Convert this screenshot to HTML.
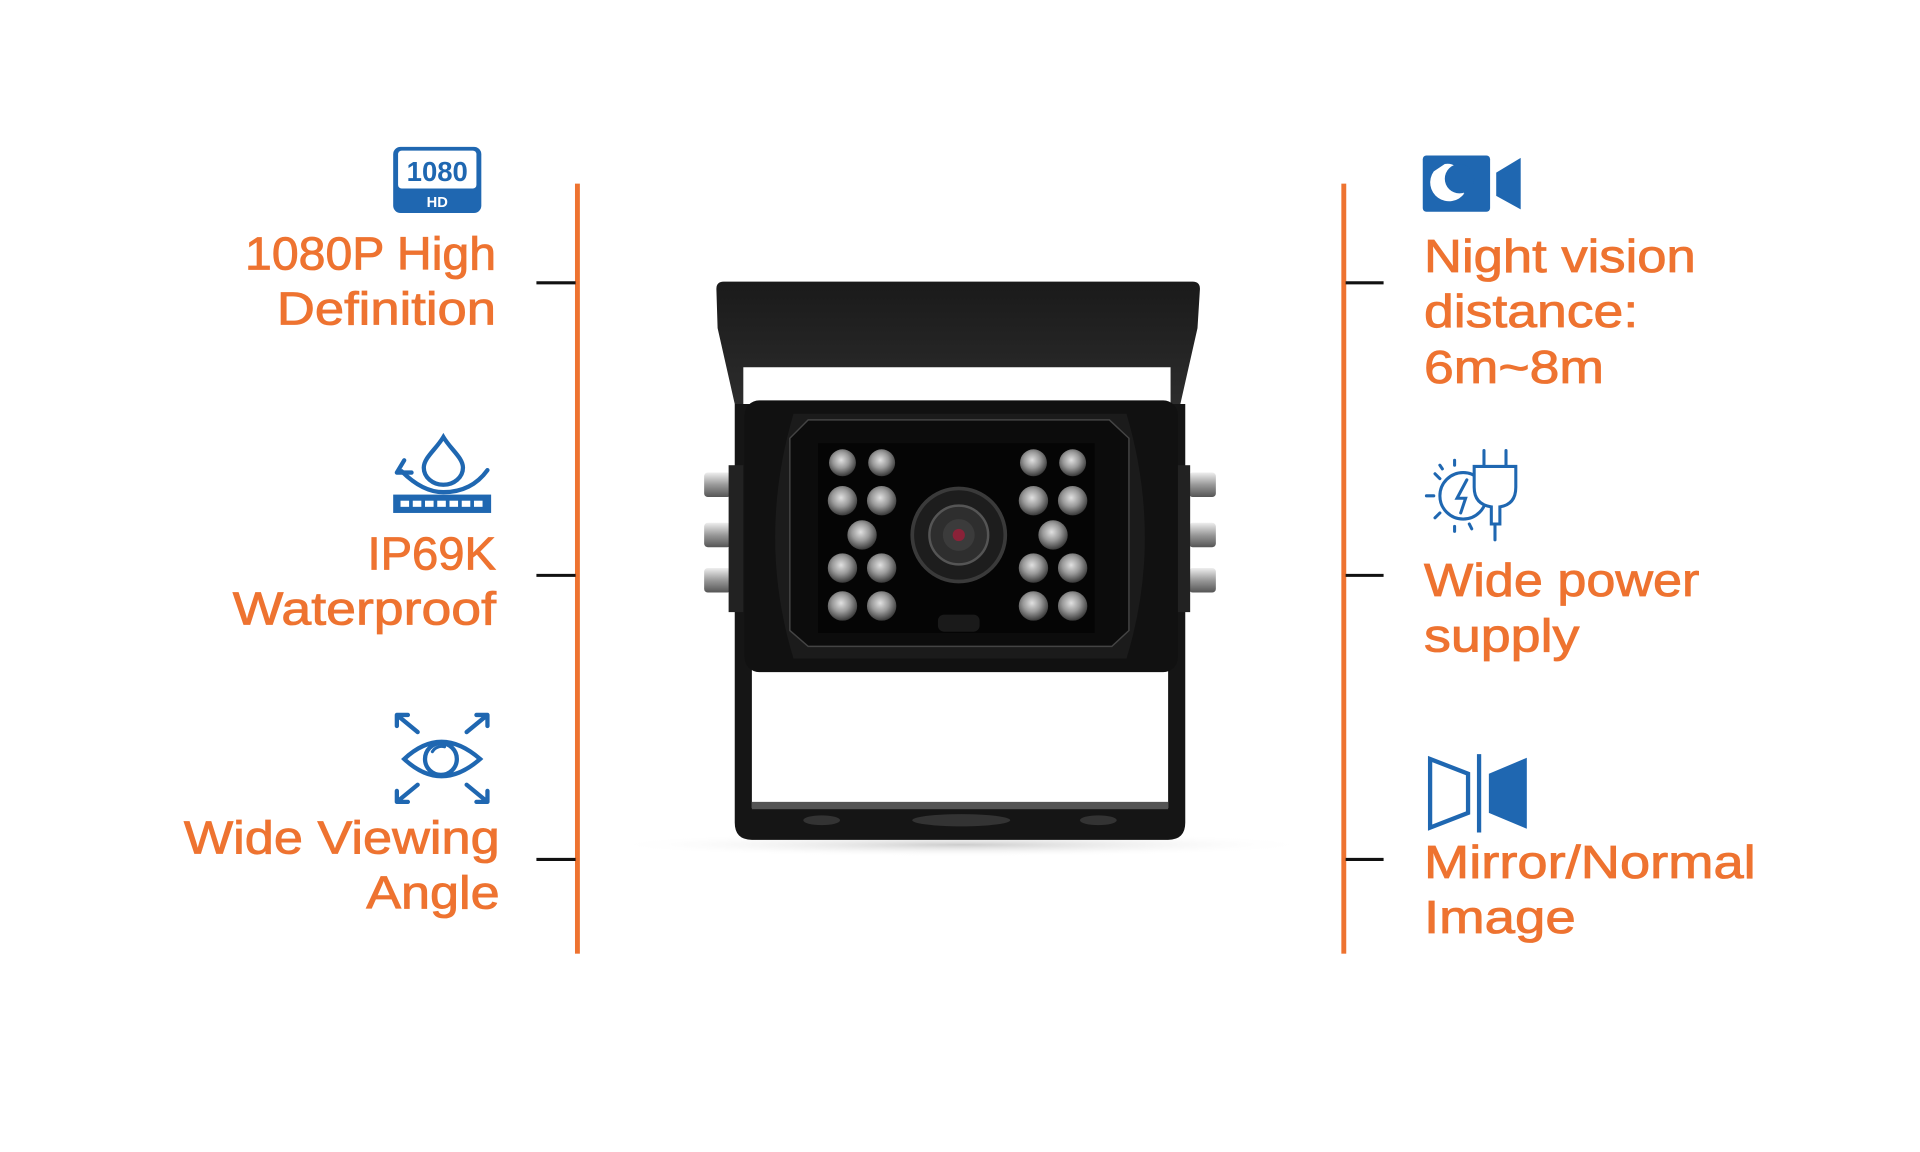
<!DOCTYPE html>
<html><head><meta charset="utf-8"><style>
html,body{margin:0;padding:0;background:#fff;width:1920px;height:1152px;overflow:hidden}
svg{display:block}
.t{font-family:"Liberation Sans",sans-serif;font-size:38px;fill:#EE7330;stroke:#EE7330;stroke-width:0.7px}
</style></head><body>
<svg width="1920" height="1152" viewBox="0 0 1568 941" xmlns="http://www.w3.org/2000/svg">
<defs>
<radialGradient id="led" cx="45%" cy="40%" r="60%"><stop offset="0" stop-color="#e0e0e0"/><stop offset="0.5" stop-color="#9a9a9a"/><stop offset="1" stop-color="#3a3a3a"/></radialGradient>
<linearGradient id="bolt" x1="0" y1="0" x2="0" y2="1"><stop offset="0" stop-color="#eee"/><stop offset="0.5" stop-color="#999"/><stop offset="1" stop-color="#555"/></linearGradient>
<linearGradient id="vis" x1="0" y1="0" x2="0" y2="1"><stop offset="0" stop-color="#1a1a1a"/><stop offset="1" stop-color="#2c2c2c"/></linearGradient>
<radialGradient id="sh" cx="50%" cy="50%" r="50%"><stop offset="0" stop-color="#ccc"/><stop offset="1" stop-color="#fff" stop-opacity="0"/></radialGradient>
</defs>
<!-- lines -->
<rect x="469.5" y="150" width="4" height="629" fill="#EE7330"/>
<rect x="1095.5" y="150" width="4" height="629" fill="#EE7330"/>
<g stroke="#111" stroke-width="2.5">
<line x1="438" y1="231" x2="470" y2="231"/><line x1="438" y1="470" x2="470" y2="470"/><line x1="438" y1="702" x2="470" y2="702"/>
<line x1="1099" y1="231" x2="1130" y2="231"/><line x1="1099" y1="470" x2="1130" y2="470"/><line x1="1099" y1="702" x2="1130" y2="702"/>
</g>
<!-- left text -->
<g class="t" text-anchor="end">
<text x="405" y="220" textLength="205" lengthAdjust="spacingAndGlyphs">1080P High</text>
<text x="405" y="265" textLength="179" lengthAdjust="spacingAndGlyphs">Definition</text>
<text x="405" y="465" textLength="105" lengthAdjust="spacingAndGlyphs">IP69K</text>
<text x="405" y="510" textLength="215" lengthAdjust="spacingAndGlyphs">Waterproof</text>
<text x="408" y="697" textLength="258" lengthAdjust="spacingAndGlyphs">Wide Viewing</text>
<text x="408" y="742" textLength="109" lengthAdjust="spacingAndGlyphs">Angle</text>
</g>
<g class="t">
<text x="1163" y="222" textLength="222" lengthAdjust="spacingAndGlyphs">Night vision</text>
<text x="1163" y="267" textLength="175" lengthAdjust="spacingAndGlyphs">distance:</text>
<text x="1163" y="313" textLength="147" lengthAdjust="spacingAndGlyphs">6m~8m</text>
<text x="1163" y="487" textLength="225" lengthAdjust="spacingAndGlyphs">Wide power</text>
<text x="1163" y="532" textLength="127" lengthAdjust="spacingAndGlyphs">supply</text>
<text x="1163" y="717" textLength="271" lengthAdjust="spacingAndGlyphs">Mirror/Normal</text>
<text x="1163" y="762" textLength="124" lengthAdjust="spacingAndGlyphs">Image</text>
</g>
<!-- icons -->
<g fill="#1F67B1" stroke="none">
<rect x="321" y="120" width="72" height="54" rx="6"/>
<rect x="325" y="123" width="64" height="31" rx="3" fill="#fff"/>
<text x="357" y="148" text-anchor="middle" font-family="Liberation Sans,sans-serif" font-weight="bold" font-size="23" fill="#1F67B1" textLength="50" lengthAdjust="spacingAndGlyphs">1080</text>
<text x="357" y="169" text-anchor="middle" font-family="Liberation Sans,sans-serif" font-weight="bold" font-size="12" fill="#fff">HD</text>
<!-- water -->
<rect x="321" y="404" width="80" height="15"/>
<g fill="#fff"><rect x="327" y="409" width="7" height="5"/><rect x="337" y="409" width="7" height="5"/><rect x="347" y="409" width="7" height="5"/><rect x="357" y="409" width="7" height="5"/><rect x="367" y="409" width="7" height="5"/><rect x="377" y="409" width="7" height="5"/><rect x="387" y="409" width="7" height="5"/></g>
</g>
<g fill="none" stroke="#1F67B1" stroke-width="3.5" stroke-linecap="round">
<path d="M362 357 C356 367 346 374 346 382 A16 14 0 0 0 378 382 C378 374 368 367 362 357 Z"/>
<path d="M328 385 Q345 402 362 402 Q385 402 398 384"/>
<path d="M324 386 L330 376 M324 386 L336 386"/>
<!-- eye -->
<path d="M330 620 Q360 592 392 620 Q360 648 330 620 Z"/>
<circle cx="360" cy="620" r="13"/>
<path d="M353 614 A9 9 0 0 1 363 610" stroke-width="2.5"/>
<path d="M324 584 L341 598 M324 584 L324 593 M324 584 L333 584"/>
<path d="M398 584 L381 598 M398 584 L398 593 M398 584 L389 584"/>
<path d="M324 655 L341 641 M324 655 L324 646 M324 655 L333 655"/>
<path d="M398 655 L381 641 M398 655 L398 646 M398 655 L389 655"/>
</g>
<g fill="#1F67B1">
<rect x="1162" y="127" width="55" height="46" rx="3"/>
<path d="M1222 141 L1242 129 L1242 171 L1222 160 Z"/>
<path d="M1171 140 A12 12 0 1 0 1196 158 A12 12 0 0 1 1189 136 A12 12 0 0 0 1180 134 Z" fill="#fff"/>
<path d="M1175 140 A14 14 0 0 0 1196 160 A12 12 0 0 1 1175 140 Z" fill="#1F67B1"/>
</g>
<circle cx="1185" cy="150" r="13" fill="#fff"/>
<circle cx="1192" cy="146" r="12" fill="#1F67B1"/>
<!-- power -->
<g fill="none" stroke="#1F67B1" stroke-width="2.5" stroke-linecap="round">
<circle cx="1195" cy="405" r="19"/>
<path d="M1198 392 L1190 407 L1197 407 L1193 419"/>
<path d="M1165 405 L1171 405 M1172 387 L1176 391 M1176 380 L1178 383 M1188 376 L1188 380 M1172 423 L1176 419 M1188 434 L1188 430 M1202 432 L1200 428"/>
<path d="M1204 381 L1238 381 L1238 398 Q1238 412 1225 414 L1225 428 L1218 428 L1218 414 Q1204 412 1204 398 Z" fill="#fff"/>
<path d="M1212 381 L1212 368 M1230 381 L1230 368 M1221 428 L1221 441"/>
</g>
<!-- mirror -->
<g stroke="#1F67B1" stroke-width="3.5" fill="none">
<path d="M1168 620 L1199 632 L1199 664 L1168 676 Z"/>
<line x1="1208" y1="616" x2="1208" y2="680"/>
</g>
<path d="M1216 632 L1247 619 L1247 677 L1216 664 Z" fill="#1F67B1"/>
<!-- camera -->
<ellipse cx="785" cy="690" rx="290" ry="10" fill="url(#sh)"/>
<path d="M600 330 L600 672 Q600 686 614 686 L954 686 Q968 686 968 672 L968 330 L954 330 L954 660 L614 660 L614 330 Z" fill="#151515"/>
<rect x="614" y="655" width="340" height="6" fill="#555"/>
<ellipse cx="671" cy="670" rx="15" ry="4" fill="#333"/>
<ellipse cx="785" cy="670" rx="40" ry="5" fill="#333"/>
<ellipse cx="897" cy="670" rx="15" ry="4" fill="#333"/>
<path d="M585 236 Q585 230 591 230 L974 230 Q980 230 980 236 L978 268 L964 330 L956 330 L956 300 L607 300 L607 330 L600 330 L586 268 Z" fill="url(#vis)"/>
<!-- bolts -->
<g fill="url(#bolt)">
<rect x="575" y="386" width="22" height="20" rx="3"/><rect x="575" y="427" width="22" height="20" rx="3"/><rect x="575" y="464" width="22" height="20" rx="3"/>
<rect x="971" y="386" width="22" height="20" rx="3"/><rect x="971" y="427" width="22" height="20" rx="3"/><rect x="971" y="464" width="22" height="20" rx="3"/>
</g>
<rect x="595" y="380" width="12" height="120" fill="#222"/><rect x="960" y="380" width="12" height="120" fill="#222"/>
<rect x="608" y="327" width="354" height="222" rx="12" fill="#111"/>
<path d="M648 338 L920 338 Q950 440 920 538 L648 538 Q618 440 648 338 Z" fill="#1b1b1b"/>
<path d="M660 343 L906 343 L922 358 L922 515 L908 528 L660 528 L645 515 L645 358 Z" fill="#0c0c0c" stroke="#444" stroke-width="1.2"/>
<rect x="668" y="362" width="226" height="155" fill="#050505"/>
<g fill="url(#led)">
<circle cx="688" cy="378" r="11"/><circle cx="720" cy="378" r="11"/><circle cx="688" cy="409" r="12"/><circle cx="720" cy="409" r="12"/><circle cx="704" cy="437" r="12"/><circle cx="688" cy="464" r="12"/><circle cx="720" cy="464" r="12"/><circle cx="688" cy="495" r="12"/><circle cx="720" cy="495" r="12"/>
<circle cx="844" cy="378" r="11"/><circle cx="876" cy="378" r="11"/><circle cx="844" cy="409" r="12"/><circle cx="876" cy="409" r="12"/><circle cx="860" cy="437" r="12"/><circle cx="844" cy="464" r="12"/><circle cx="876" cy="464" r="12"/><circle cx="844" cy="495" r="12"/><circle cx="876" cy="495" r="12"/>
</g>
<circle cx="783" cy="437" r="38" fill="#1d1d1d" stroke="#3a3a3a" stroke-width="3"/>
<circle cx="783" cy="437" r="24" fill="#2e2e2e" stroke="#555" stroke-width="2"/>
<circle cx="783" cy="437" r="13" fill="#3b3b3b"/>
<circle cx="783" cy="437" r="5" fill="#8a2238"/>
<rect x="766" y="502" width="34" height="14" rx="5" fill="#1a1a1a"/>
</svg>
</body></html>
